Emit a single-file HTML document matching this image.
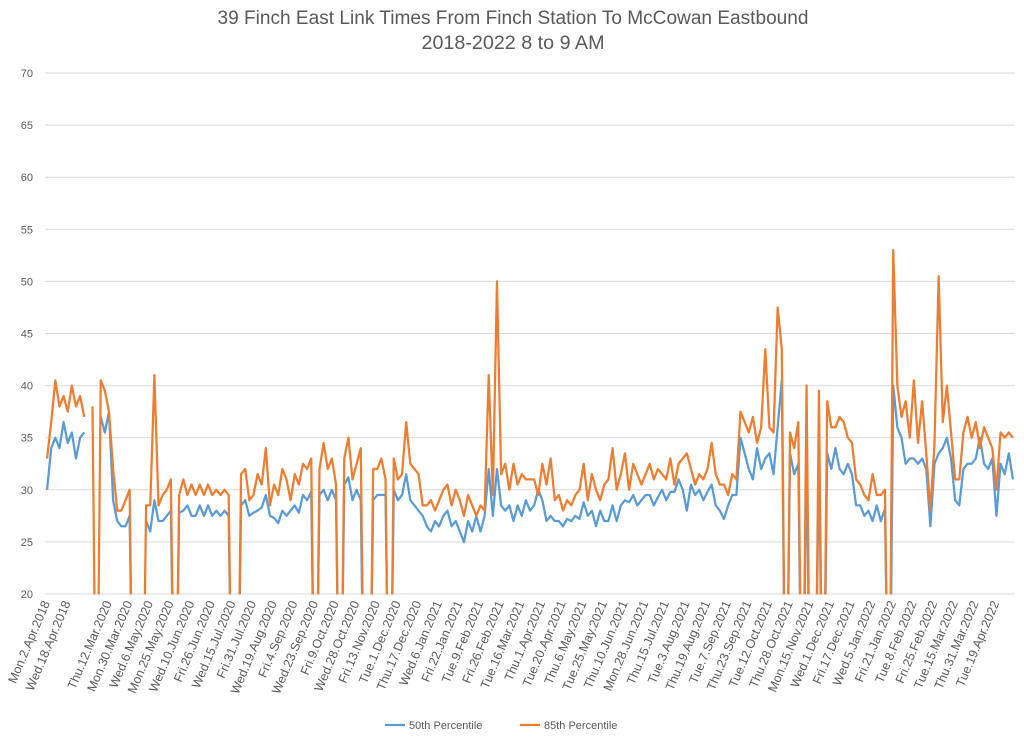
<!DOCTYPE html>
<html><head><meta charset="utf-8">
<style>
html,body{margin:0;padding:0;background:#fff;overflow:hidden;width:1024px;height:746px;}
svg{display:block;font-family:"Liberation Sans",sans-serif;}
</style></head>
<body>
<svg id="chart" width="1024" height="746" viewBox="0 0 1024 746">
<defs><clipPath id="plotclip"><rect x="40" y="40" width="980" height="554.5"/></clipPath></defs>
<rect width="1024" height="746" fill="#fff"/>
<text x="513" y="24" text-anchor="middle" font-size="19" fill="#595959" textLength="591" lengthAdjust="spacingAndGlyphs">39 Finch East Link Times From Finch Station To McCowan Eastbound</text>
<text x="513" y="49" text-anchor="middle" font-size="19" fill="#595959" textLength="183" lengthAdjust="spacingAndGlyphs">2018-2022 8 to 9 AM</text>
<g id="grid"></g>
<g id="yticks"></g>
<g id="series" clip-path="url(#plotclip)"></g>
<g id="xlabels"></g>
<g>
<line x1="385" y1="725" x2="405" y2="725" stroke="#5b9bd5" stroke-width="2.25"/>
<text x="409" y="729" font-size="11" fill="#595959">50th Percentile</text>
<line x1="520" y1="725" x2="540" y2="725" stroke="#ed7d31" stroke-width="2.25"/>
<text x="544" y="729" font-size="11" fill="#595959">85th Percentile</text>
</g>
</svg>
<script>
const yTicks = [20,25,30,35,40,45,50,55,60,65,70];
const xLabels = ["Mon.2.Apr.2018","Wed.18.Apr.2018","","Thu.12.Mar.2020","Mon.30.Mar.2020","Wed.6.May.2020","Mon.25.May.2020","Wed.10.Jun.2020","Fri.26.Jun.2020","Wed.15.Jul.2020","Fri.31.Jul.2020","Wed.19.Aug.2020","Fri.4.Sep.2020","Wed.23.Sep.2020","Fri.9.Oct.2020","Wed.28.Oct.2020","Fri.13.Nov.2020","Tue.1.Dec.2020","Thu.17.Dec.2020","Wed.6.Jan.2021","Fri.22.Jan.2021","Tue.9.Feb.2021","Fri.26.Feb.2021","Tue.16.Mar.2021","Thu.1.Apr.2021","Tue.20.Apr.2021","Thu.6.May.2021","Tue.25.May.2021","Thu.10.Jun.2021","Mon.28.Jun.2021","Thu.15.Jul.2021","Tue.3.Aug.2021","Thu.19.Aug.2021","Tue.7.Sep.2021","Thu.23.Sep.2021","Tue.12.Oct.2021","Thu.28.Oct.2021","Mon.15.Nov.2021","Wed.1.Dec.2021","Fri.17.Dec.2021","Wed.5.Jan.2022","Fri.21.Jan.2022","Tue.8.Feb.2022","Fri.25.Feb.2022","Tue.15.Mar.2022","Thu.31.Mar.2022","Tue.19.Apr.2022"];
const labelEvery = 5;
const p85 = [33,36.5,40.5,38,39,37.5,40,38,39,37,null,38,0,40.5,39.5,37.5,32,28,28,29,30,0,null,0,28.5,28.5,41,28.5,29.5,30,31,0,29.5,31,29.5,30.5,29.5,30.5,29.5,30.5,29.5,30,29.5,30,29.5,0,0,31.5,32,29,29.5,31.5,30.5,34,28.5,30.5,29.5,32,31,29,31.5,30.5,32.5,32,33,0,32,34.5,32,33,30.5,0,33,35,31,32.5,34,0,0,32,32,33,31,0,33,31,31.5,36.5,32.5,32,31.5,28.5,28.5,29,28,29,30,30.5,28.5,30,29,27.5,29.5,28.5,27.5,28.5,28,41,29.5,50,31.5,32.5,30,32.5,30.5,31.5,31,31,31,29.5,32.5,30.5,33,29,29.5,28,29,28.5,29.5,30,32.5,29,31.5,30,29,30.5,31,34,30,31.5,33.5,30,32.5,31.5,30.5,31.5,32.5,31,32,31.5,31,33,30.5,32.5,33,33.5,32,30.5,31.5,31,32,34.5,31.5,30.5,30.5,29.5,31.5,31,37.5,36.5,35.5,37,34.5,36,43.5,36,35.5,47.5,43.5,0,35.5,34,36.5,0,40,0,0,39.5,0,38.5,36,36,37,36.5,35,34.5,31,30.5,29.5,29,31.5,29.5,29.5,30,0,53,40,37,38.5,35,40.5,34.5,38.5,33.5,28,34.5,50.5,36.5,40,35.5,31,31,35.5,37,35,36.5,34,36,35,34,30,35.5,35,35.5,35];
const p50 = [30,34,35,34,36.5,34.5,35.5,33,35,35.5,null,null,null,37,35.5,37.5,29,27,26.5,26.5,27.5,0,null,null,27,26,29,27,27,27.5,28,0,27.8,28,28.5,27.5,27.5,28.5,27.5,28.5,27.5,28,27.5,28,27.5,0,0,28.5,29,27.5,27.8,28,28.3,29.5,27.5,27.3,26.8,28,27.5,28,28.5,27.8,29.5,29,29.8,0,29.5,30,29,30,29,0,30.5,31.2,29,30,29,0,0,29,29.5,29.5,29.5,0,30,29,29.5,31.5,29,28.5,28,27.5,26.5,26,27,26.5,27.5,28,26.5,27,26,25,27,26,27.5,26,27.5,32,27.5,32,28.5,28,28.5,27,28.5,27.5,29,28,28.5,30,29,27,27.5,27,27,26.5,27.2,27,27.5,27.2,28.8,27.5,28,26.5,28,27,27,28.5,27,28.5,29,28.8,29.5,28.5,29,29.5,29.5,28.5,29.3,30,29,29.8,29.8,31,30,28,30.5,29.5,30,29,29.8,30.5,28.5,28,27.2,28.5,29.5,29.5,35,33.5,32,31,34,32,33,33.5,31.5,36,40.5,0,33.5,31.5,32.5,0,35,0,0,35,0,33.5,32,34,32,31.5,32.5,31.5,28.5,28.5,27.5,28,27,28.5,27,28.2,0,40,36,35,32.5,33,33,32.5,33,32,26.5,32.5,33.5,34,35,33,29,28.5,32,32.5,32.5,33,35,32.5,32,33,27.5,32.5,31.5,33.5,31];

const NS = "http://www.w3.org/2000/svg";
const plotL = 45, plotR = 1015, yTop = 73, yBot = 594, vMin = 20, vMax = 70;
const n = p85.length;
const step = (plotR - plotL) / n;
function xScale(i){ return plotL + (i + 0.5) * step; }
function yScale(v){ return yBot - (v - vMin) / (vMax - vMin) * (yBot - yTop); }

const grid = document.getElementById('grid');
const yt = document.getElementById('yticks');
yTicks.forEach(t => {
  const ln = document.createElementNS(NS, 'line');
  ln.setAttribute('x1', plotL); ln.setAttribute('x2', plotR);
  ln.setAttribute('y1', yScale(t)); ln.setAttribute('y2', yScale(t));
  ln.setAttribute('stroke', '#d9d9d9'); ln.setAttribute('stroke-width', '1');
  
  
  grid.appendChild(ln);
  const tx = document.createElementNS(NS, 'text');
  tx.setAttribute('x', 33); tx.setAttribute('y', yScale(t) + 4);
  tx.setAttribute('text-anchor', 'end'); tx.setAttribute('font-size', '11');
  tx.setAttribute('fill', '#595959');
  tx.textContent = t;
  
  
  yt.appendChild(tx);
});

const xl = document.getElementById('xlabels');
xLabels.forEach((lab, k) => {
  if (!lab) return;
  const x = xScale(k * labelEvery) + 3, y = 603;
  const tx = document.createElementNS(NS, 'text');
  tx.setAttribute('transform', 'translate(' + x + ',' + y + ') rotate(-67)');
  tx.setAttribute('text-anchor', 'end'); tx.setAttribute('font-size', '12.5');
  tx.setAttribute('fill', '#595959');
  tx.textContent = lab;
  
  
  xl.appendChild(tx);
});

function drawSeries(vals, color, name){
  let d = '', pen = false;
  vals.forEach((v, i) => {
    if (v === null) { pen = false; return; }
    d += (pen ? 'L' : 'M') + xScale(i).toFixed(2) + ' ' + yScale(v).toFixed(2) + ' ';
    pen = true;
  });
  const p = document.createElementNS(NS, 'path');
  p.setAttribute('d', d);
  p.setAttribute('fill', 'none'); p.setAttribute('stroke', color);
  p.setAttribute('stroke-width', '2.25'); p.setAttribute('stroke-linejoin', 'round');
  
  
  document.getElementById('series').appendChild(p);
}
drawSeries(p50, '#5b9bd5', 'series-50th-percentile');
drawSeries(p85, '#ed7d31', 'series-85th-percentile');
</script>
</body></html>
